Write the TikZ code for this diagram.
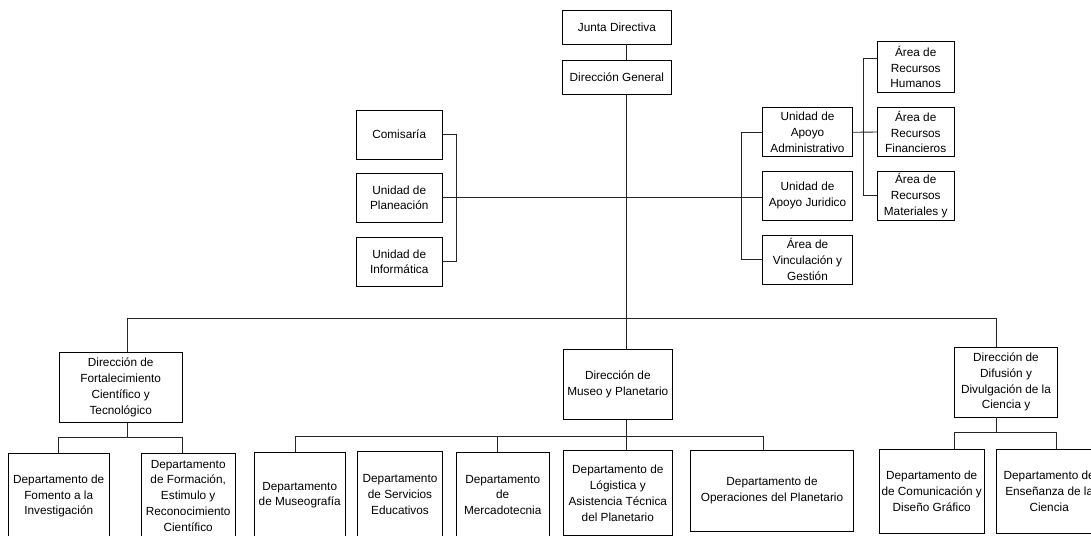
\documentclass[tikz,border=0pt]{standalone}
\usepackage{fontspec}
\setmainfont{Liberation Sans}

\begin{document}
\begin{tikzpicture}[x=1pt,y=-1pt,line width=0.9pt]
\useasboundingbox (0,0) rectangle (1091,535);
\coordinate (eje) at (626.7,0);
\coordinate (busG) at (0,318.3);
\coordinate (busF) at (0,437.3);
\coordinate (busM) at (0,436);
\coordinate (busD) at (0,432.7);
\begin{scope}[every node/.style={rectangle,draw,line width=0.9pt,align=center,inner sep=0pt,
    font=\fontsize{11.8}{15.8}\selectfont,minimum height=34pt,minimum width=108.3pt}]
    \node (junta) at (616.9,27) {Junta Directiva};
    \node (dirgen) at (616.9,77.2) {Dirección General};
\end{scope}
\begin{scope}[every node/.style={rectangle,draw,line width=0.9pt,align=center,inner sep=0pt,
    font=\fontsize{11.8}{15.8}\selectfont,minimum height=49pt}]
    \node[minimum width=86.3pt] (comisaria) at (399.2,134.5) {Comisaría};
    \node[minimum width=86.3pt] (planeacion) at (399.2,197.8) {Unidad de\\Planeación};
    \node[minimum width=86.3pt] (informatica) at (399.2,261.7) {Unidad de\\Informática};
    \node[minimum width=89.6pt] (apoyoadm) at (807.5,132.3) {Unidad de\\Apoyo\\Administrativo};
    \node[minimum width=89.6pt] (juridico) at (807.5,195.8) {Unidad de\\Apoyo Juridico};
    \node[minimum width=89.6pt] (vinculacion) at (807.5,259.5) {Área de\\Vinculación y\\Gestión};
    \node[minimum width=76.7pt,minimum height=50.6pt] (humanos) at (915.7,67) {Área de\\Recursos\\Humanos};
    \node[minimum width=76.7pt] (financieros) at (915.7,132) {Área de\\Recursos\\Financieros};
    \node[minimum width=76.7pt] (materiales) at (915.7,195.5) {Área de\\Recursos\\Materiales y};
\end{scope}
\begin{scope}[every node/.style={rectangle,draw,line width=0.9pt,align=center,inner sep=0pt,
    font=\fontsize{11.8}{15.8}\selectfont,minimum height=70pt}]
    \node[minimum width=122.7pt] (fortalecimiento) at (120.7,387.3) {Dirección de\\Fortalecimiento\\Científico y\\Tecnológico};
    \node[minimum width=109pt] (museo) at (617.8,384.2) {Dirección de\\Museo y Planetario};
    \node[minimum width=103.4pt] (difusion) at (1006,382) {Dirección de\\Difusión y\\Divulgación de la\\Ciencia y};
\end{scope}
\begin{scope}[every node/.style={rectangle,draw,line width=0.9pt,align=center,inner sep=0pt,
    font=\fontsize{11.8}{15.8}\selectfont,minimum height=85pt}]
    \node[minimum width=100.7pt] (fomento) at (58.7,496) {Departamento de\\Fomento a la\\Investigación};
    \node[minimum width=93.7pt] (formacion) at (188.2,495.7) {Departamento\\de Formación,\\Estimulo y\\Reconocimiento\\Científico};
    \node[minimum width=90.7pt] (museografia) at (299.7,495.2) {Departamento\\de Museografía};
    \node[minimum width=85.4pt] (servicios) at (400,494.2) {Departamento\\de Servicios\\Educativos};
    \node[minimum width=93.3pt] (mercadotecnia) at (502.7,494.8) {Departamento\\de\\Mercadotecnia};
    \node[minimum width=109pt] (logistica) at (617.8,493.2) {Departamento de\\Lógistica y\\Asistencia Técnica\\del Planetario};
    \node[minimum width=162.6pt,minimum height=81.7pt] (operaciones) at (772,490.8) {Departamento de\\Operaciones del Planetario};
    \node[minimum width=105.3pt,minimum height=84pt] (comunicacion) at (931.7,491) {Departamento de\\de Comunicación y\\Diseño Gráfico};
    \node[minimum width=105.7pt,minimum height=84pt] (ensenanza) at (1049.2,491) {Departamento de\\Enseñanza de la\\Ciencia};
\end{scope}
\begin{scope}[draw=black!85]
    % linea central
    \draw (junta.south -| eje) -- (dirgen.north -| eje);
    \draw (dirgen.south -| eje) -- (museo.north -| eje);
    % staff
    \draw (comisaria.east) -- ++(13.4,0) |- (informatica.east);
    \draw (planeacion.east) -- (planeacion.east -| juridico.west);
    \draw (apoyoadm.west) -- ++(-21,0) |- (vinculacion.west);
    \draw (apoyoadm.east) -- (financieros.west);
    \draw ([yshift=8.7pt]humanos.west) -- ++(-13,0) |- (materiales.west);
    % direcciones
    \draw ([xshift=7pt]fortalecimiento.north) -- ([xshift=7pt]fortalecimiento.north |- busG)
        -| ([xshift=-10pt]difusion.north);
    % departamentos
    \draw ([xshift=7pt]fortalecimiento.south) -- ([xshift=7pt]fortalecimiento.south |- busF);
    \draw (fomento.north) -- (fomento.north |- busF) -| ([xshift=-6pt]formacion.north);
    \draw (museo.south -| eje) -- (busM -| eje);
    \draw ([xshift=-4.4pt]museografia.north) -- ([xshift=-4.4pt]museografia.north |- busM)
        -| ([xshift=-8.7pt]operaciones.north);
    \draw ([xshift=-5.4pt]mercadotecnia.north) -- ([xshift=-5.4pt]mercadotecnia.north |- busM);
    \draw (logistica.north -| eje) -- (busM -| eje);
    \draw ([xshift=-10pt]difusion.south) -- ([xshift=-10pt]difusion.south |- busD);
    \draw ([xshift=22.6pt]comunicacion.north) -- ([xshift=22.6pt]comunicacion.north |- busD)
        -| ([xshift=7.5pt]ensenanza.north);
\end{scope}
\end{tikzpicture}
\end{document}
